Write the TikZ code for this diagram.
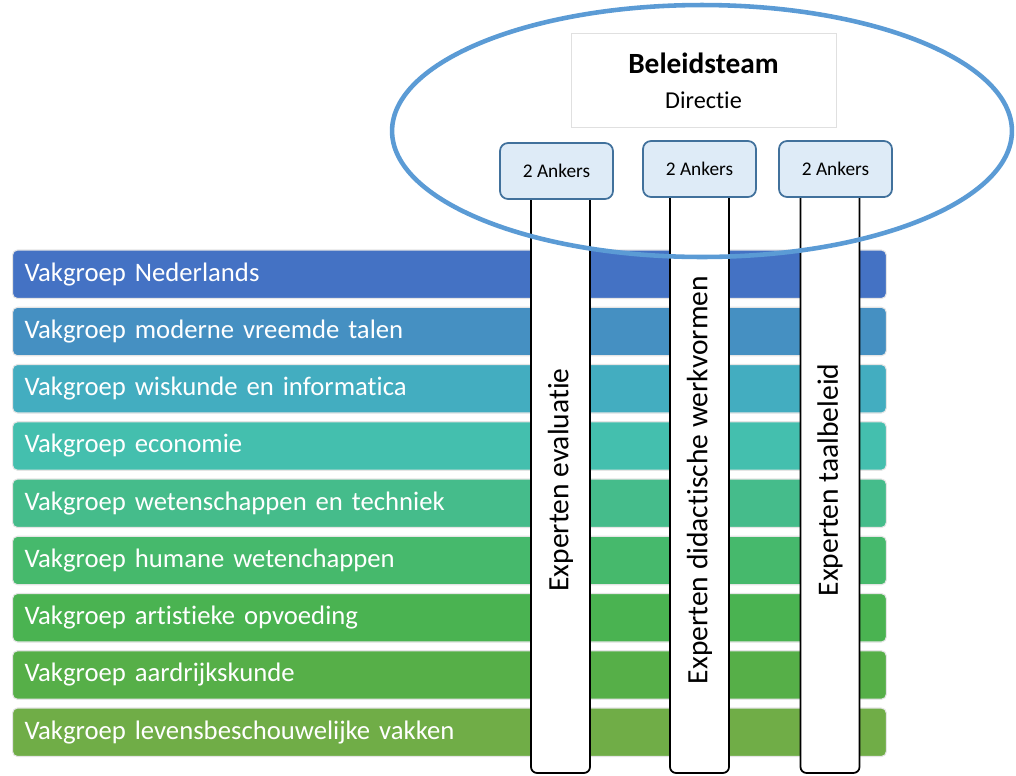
\documentclass[tikz,border=0pt]{standalone}
\usepackage{fontspec}
\setmainfont{Carlito}[Ligatures=NoCommon]
\definecolor{vakA}{HTML}{4472C4}
\definecolor{vakB}{HTML}{4590C2}
\definecolor{vakC}{HTML}{43ADC0}
\definecolor{vakD}{HTML}{44BFAE}
\definecolor{vakE}{HTML}{45BC8B}
\definecolor{vakF}{HTML}{46B96C}
\definecolor{vakG}{HTML}{4AB351}
\definecolor{vakH}{HTML}{56AF48}
\definecolor{vakI}{HTML}{70AD47}
\definecolor{ankerfill}{HTML}{DEEBF7}
\definecolor{ankerline}{HTML}{41719C}
\definecolor{ringblue}{HTML}{5B9BD5}
\begin{document}
\begin{tikzpicture}[x=0.02cm,y=-0.02cm,
   vak/.style={anchor=west,draw=black!10,line width=0.6pt,rounded corners=0.1cm,
      text=white,inner xsep=0.24cm,text width=17cm,align=left,minimum height=0.97cm,
      font=\fontsize{15.2}{18}\selectfont},
   pijler/.style={rotate=90,draw=black,fill=white,line width=1pt,rounded corners=0.12cm,
      minimum width=11.72cm,minimum height=1.18cm,font=\fontsize{16.8}{20}\selectfont},
   anker/.style={draw=ankerline,fill=ankerfill,line width=1pt,rounded corners=0.16cm,
      minimum width=2.26cm,minimum height=1.12cm,font=\fontsize{11}{13}\selectfont}]
   \useasboundingbox (0,0) rectangle (1016,775);
   \node[vak,fill=vakA] (ned) at (12,274.25) {Vakgroep Nederlands};
   \node[vak,fill=vakB] (mvt) at (12,331.5) {Vakgroep moderne vreemde talen};
   \node[vak,fill=vakC] (wisk) at (12,388.75) {Vakgroep wiskunde en informatica};
   \node[vak,fill=vakD] (eco) at (12,446) {Vakgroep economie};
   \node[vak,fill=vakE] (wet) at (12,503.25) {Vakgroep wetenschappen en techniek};
   \node[vak,fill=vakF] (hum) at (12,560.5) {Vakgroep humane wetenchappen};
   \node[vak,fill=vakG] (art) at (12,617.75) {Vakgroep artistieke opvoeding};
   \node[vak,fill=vakH] (aard) at (12,675) {Vakgroep aardrijkskunde};
   \node[vak,fill=vakI] (lev) at (12,732.25) {Vakgroep levensbeschouwelijke vakken};
   \node[pijler] (eval) at (560.5,480) {Experten evaluatie};
   \node[pijler] (didact) at (699.5,480) {Experten didactische werkvormen};
   \node[pijler] (taal) at (830,480) {Experten taalbeleid};
   \node[anker] (ankerA) at (556.5,171) {2 Ankers};
   \node[anker] (ankerB) at (699.5,169) {2 Ankers};
   \node[anker] (ankerC) at (835.5,169) {2 Ankers};
   \node[draw=black!12,fill=white,minimum width=5.3cm,minimum height=1.88cm] (beleid) at (703.5,80) {};
   \node[font=\fontsize{16.7}{20}\selectfont\bfseries] (beleidtitel) at (703.5,63) {Beleidsteam};
   \node[font=\fontsize{13.8}{16}\selectfont] (directie) at (703.5,100) {Directie};
   \draw[ringblue,line width=2.6pt] (702,131) ellipse [x radius=6.2cm,y radius=2.52cm];
  \end{tikzpicture}
\end{document}
